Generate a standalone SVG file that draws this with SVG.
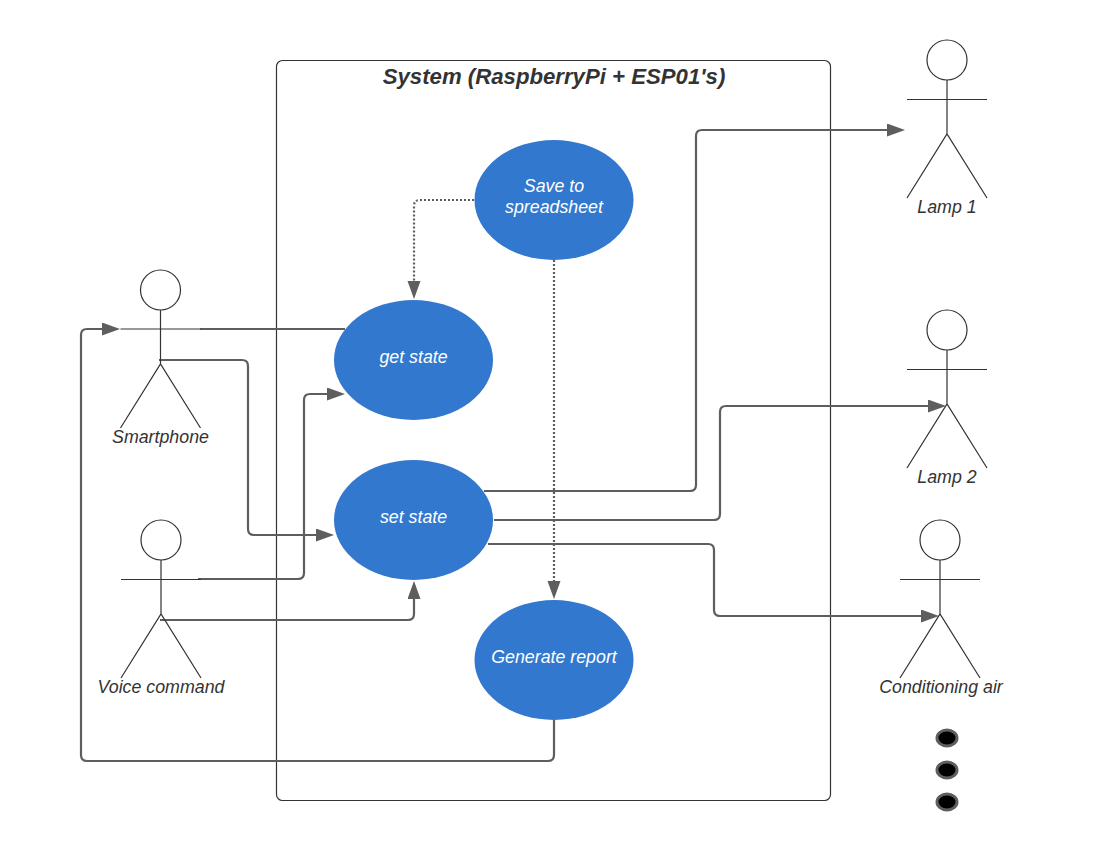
<svg xmlns="http://www.w3.org/2000/svg" width="1107" height="850" viewBox="0 0 1107 850">
<style>
text{font-family:"Liberation Sans",Arial,sans-serif;font-style:italic;font-size:17.8px;fill:#333;text-anchor:middle}
.u text,text.w{fill:#fff}
.u ellipse{fill:#3178ce}
.a circle,.a path{fill:#fff;stroke:#333;stroke-width:1.2}
.a path{fill:none}
.c path{fill:none;stroke:#5e5e5e;stroke-width:2.2}
.c path.d{stroke-dasharray:2 2}
.dot{fill:#000;stroke:#5e5e5e;stroke-width:3}
</style>
<defs><marker id="ah" markerUnits="userSpaceOnUse" markerWidth="20" markerHeight="14" refX="14" refY="6.500" orient="auto"><path d="M0 0L18 6.500L0 13Z" fill="#5e5e5e"/></marker></defs>
<rect id="system" x="276.500" y="60.500" width="554" height="740" rx="6" fill="#fff" stroke="#333" stroke-width="1.200"/>
<text x="554" y="84" style="font-size:22.2px;font-weight:bold">System (RaspberryPi + ESP01's)</text>
<g id="connectors" class="c">
<path d="M345 329H200"/>
<path d="M159 360H242Q248 360 248 366V529Q248 535 254 535H330" marker-end="url(#ah)"/>
<path d="M198 579H298Q304 579 304 573V400Q304 394 310 394H341" marker-end="url(#ah)"/>
<path d="M160 620H408Q414 620 414 614V585" marker-end="url(#ah)"/>
<path class="d" d="M474 200H420Q414 200 414 206V295" marker-end="url(#ah)"/>
<path class="d" d="M554 260V595" marker-end="url(#ah)"/>
<path d="M554 720V755Q554 761 548 761H87Q81 761 81 755V335Q81 329 87 329H116" marker-end="url(#ah)"/>
<path d="M484 491H690Q696 491 696 485V136Q696 130 702 130H901" marker-end="url(#ah)"/>
<path d="M494 520H714Q720 520 720 514V412Q720 406 726 406H942" marker-end="url(#ah)"/>
<path d="M488 544H708Q714 544 714 550V610Q714 616 720 616H935" marker-end="url(#ah)"/>
</g>
<g id="uc-save" class="u"><ellipse cx="554" cy="200" rx="79.500" ry="60"/><text class="w" x="554" y="192">Save to</text><text class="w" x="554" y="213">spreadsheet</text></g>
<g id="uc-get" class="u"><ellipse cx="413.500" cy="360" rx="79.500" ry="60"/><text class="w" x="413.500" y="363">get state</text></g>
<g id="uc-set" class="u"><ellipse cx="413.500" cy="520" rx="79.500" ry="60"/><text class="w" x="413.500" y="523">set state</text></g>
<g id="uc-report" class="u"><ellipse cx="554" cy="660" rx="79.500" ry="60"/><text class="w" x="554" y="663">Generate report</text></g>
<g id="actor-smartphone" class="a"><circle cx="160.500" cy="290" r="20"/><path d="M160.500 310V364M120.500 329H200.500M120.500 428L160.500 364L200.500 428"/><text x="160.500" y="443">Smartphone</text></g>
<g id="actor-voice" class="a"><circle cx="161" cy="540" r="20"/><path d="M161 560V614M121 579.500H201M121 678L161 614L201 678"/><text x="161" y="693">Voice command</text></g>
<g id="actor-lamp1" class="a"><circle cx="947" cy="60" r="20"/><path d="M947 80V134M907 99.500H987M907 198L947 134L987 198"/><text x="947" y="213">Lamp 1</text></g>
<g id="actor-lamp2" class="a"><circle cx="947" cy="330" r="20"/><path d="M947 350V404M907 369.500H987M907 468L947 404L987 468"/><text x="947" y="483">Lamp 2</text></g>
<g id="actor-air" class="a"><circle cx="940" cy="540" r="20"/><path d="M940 560V614M900 579.500H980M900 678L940 614L980 678"/><text x="941" y="693">Conditioning air</text></g>
<ellipse class="dot" cx="947" cy="738" rx="10" ry="8"/>
<ellipse class="dot" cx="947" cy="770" rx="10" ry="8"/>
<ellipse class="dot" cx="947" cy="802" rx="10" ry="8"/>
</svg>
